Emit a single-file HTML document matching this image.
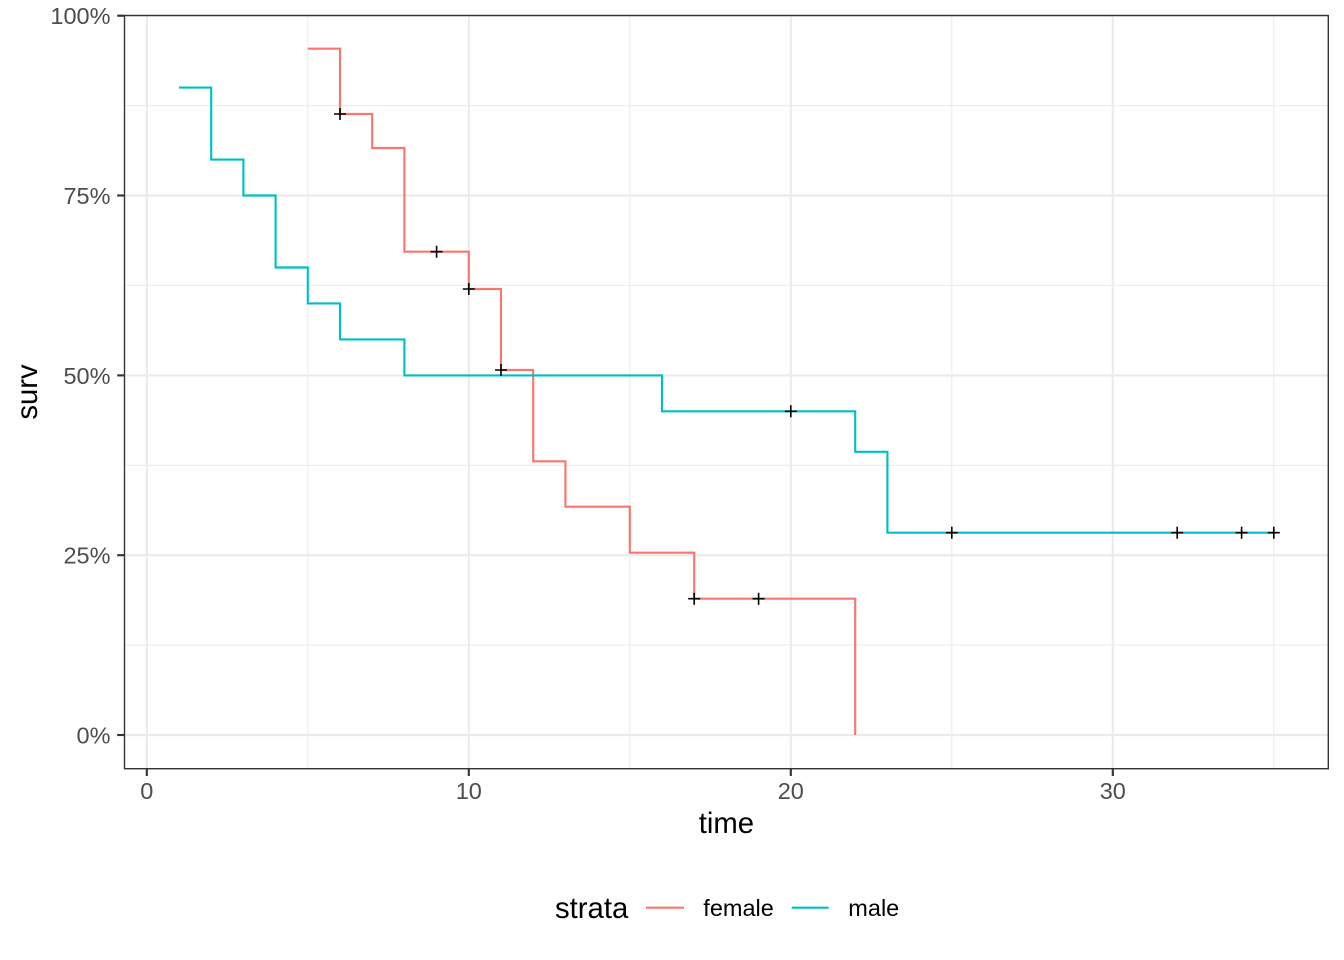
<!DOCTYPE html>
<html>
<head>
<meta charset="utf-8">
<style>
html,body{margin:0;padding:0;background:#fff;}
svg{display:block;}
text{font-family:"Liberation Sans",Arial,sans-serif;}
</style>
</head>
<body>
<svg width="1344" height="960" viewBox="0 0 1344 960" xmlns="http://www.w3.org/2000/svg">
<rect x="0" y="0" width="1344" height="960" fill="#fff"/>
<!-- panel background -->
<rect x="124.5" y="15.5" width="1203.8" height="753.2" fill="#fff"/>
<!-- minor grid -->
<g stroke="#EBEBEB" stroke-width="1.07" fill="none">
<line x1="124.5" x2="1328.3" y1="645.1" y2="645.1"/>
<line x1="124.5" x2="1328.3" y1="465.3" y2="465.3"/>
<line x1="124.5" x2="1328.3" y1="285.4" y2="285.4"/>
<line x1="124.5" x2="1328.3" y1="105.6" y2="105.6"/>
<line y1="15.5" y2="768.7" x1="307.8" x2="307.8"/>
<line y1="15.5" y2="768.7" x1="629.8" x2="629.8"/>
<line y1="15.5" y2="768.7" x1="951.8" x2="951.8"/>
<line y1="15.5" y2="768.7" x1="1273.8" x2="1273.8"/>
</g>
<!-- major grid -->
<g stroke="#EBEBEB" stroke-width="2.13" fill="none">
<line x1="124.5" x2="1328.3" y1="735" y2="735"/>
<line x1="124.5" x2="1328.3" y1="555.2" y2="555.2"/>
<line x1="124.5" x2="1328.3" y1="375.4" y2="375.4"/>
<line x1="124.5" x2="1328.3" y1="195.5" y2="195.5"/>
<line x1="124.5" x2="1328.3" y1="15.7" y2="15.7"/>
<line y1="15.5" y2="768.7" x1="146.8" x2="146.8"/>
<line y1="15.5" y2="768.7" x1="468.8" x2="468.8"/>
<line y1="15.5" y2="768.7" x1="790.8" x2="790.8"/>
<line y1="15.5" y2="768.7" x1="1112.8" x2="1112.8"/>
</g>
<!-- female -->
<path d="M307.8,48.7 H340 V114 H372.2 V148 H404.4 V251.7 H468.8 V289 H501 V370 H533.2 V461.3 H565.4 V506.7 H629.8 V552.7 H694.2 V598.7 H855.2 V735" fill="none" stroke="#F8766D" stroke-width="2.13" stroke-linejoin="miter" stroke-linecap="butt"/>
<!-- male -->
<path d="M179,87.6 H211.2 V159.6 H243.4 V195.5 H275.6 V267.5 H307.8 V303.4 H340 V339.4 H404.4 V375.4 H662 V411.3 H855.2 V451.8 H887.4 V532.7 H1273.8" fill="none" stroke="#00BFC4" stroke-width="2.13" stroke-linejoin="miter" stroke-linecap="butt"/>
<!-- censor marks -->
<g stroke="#000" stroke-width="1.6" fill="none">
<path d="M334,114h12M340,108v12"/>
<path d="M430.6,251.7h12M436.6,245.7v12"/>
<path d="M462.8,289h12M468.8,283v12"/>
<path d="M495,370h12M501,364v12"/>
<path d="M688.2,598.7h12M694.2,592.7v12"/>
<path d="M752.6,598.7h12M758.6,592.7v12"/>
<path d="M784.8,411.3h12M790.8,405.3v12"/>
<path d="M945.8,532.7h12M951.8,526.7v12"/>
<path d="M1171.2,532.7h12M1177.2,526.7v12"/>
<path d="M1235.6,532.7h12M1241.6,526.7v12"/>
<path d="M1267.8,532.7h12M1273.8,526.7v12"/>
</g>
<!-- panel border -->
<rect x="124.5" y="15.5" width="1203.8" height="753.2" fill="none" stroke="#333333" stroke-width="1.4"/>
<!-- axis ticks -->
<g stroke="#333333" stroke-width="2.13">
<line x1="117.2" x2="124.5" y1="735" y2="735"/>
<line x1="117.2" x2="124.5" y1="555.2" y2="555.2"/>
<line x1="117.2" x2="124.5" y1="375.4" y2="375.4"/>
<line x1="117.2" x2="124.5" y1="195.5" y2="195.5"/>
<line x1="117.2" x2="124.5" y1="15.7" y2="15.7"/>
<line y1="768.7" y2="776" x1="146.8" x2="146.8"/>
<line y1="768.7" y2="776" x1="468.8" x2="468.8"/>
<line y1="768.7" y2="776" x1="790.8" x2="790.8"/>
<line y1="768.7" y2="776" x1="1112.8" x2="1112.8"/>
</g>
<!-- tick labels -->
<g font-size="23.5" fill="#4D4D4D" text-anchor="end">
<text x="110.5" y="743.4">0%</text>
<text x="110.5" y="563.6">25%</text>
<text x="110.5" y="383.8">50%</text>
<text x="110.5" y="203.9">75%</text>
<text x="110.5" y="24.2">100%</text>
</g>
<g font-size="23.5" fill="#4D4D4D" text-anchor="middle">
<text x="146.8" y="799">0</text>
<text x="468.8" y="799">10</text>
<text x="790.8" y="799">20</text>
<text x="1112.8" y="799">30</text>
</g>
<!-- axis titles -->
<text x="726.4" y="833" font-size="29.3" fill="#000" text-anchor="middle">time</text>
<text transform="translate(37,392) rotate(-90)" font-size="29.3" fill="#000" text-anchor="middle">surv</text>
<!-- legend -->
<text x="555" y="918" font-size="29.3" fill="#000">strata</text>
<line x1="646" x2="684" y1="907.7" y2="907.7" stroke="#F8766D" stroke-width="2.13"/>
<text x="703.3" y="915.8" font-size="23.5" fill="#000">female</text>
<line x1="791.7" x2="828.7" y1="907.7" y2="907.7" stroke="#00BFC4" stroke-width="2.13"/>
<text x="848.3" y="915.8" font-size="23.5" fill="#000">male</text>
</svg>
</body>
</html>
